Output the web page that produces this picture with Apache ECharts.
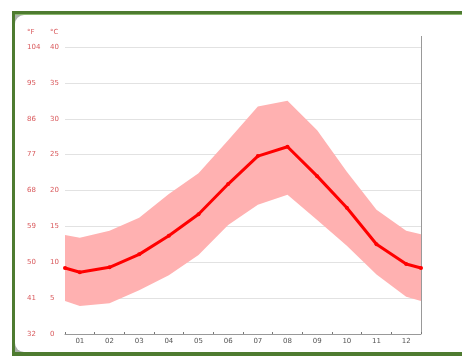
<!DOCTYPE html>
<html><head><meta charset="utf-8">
<style>html,body{margin:0;padding:0;background:#fff}#c{width:462px;height:356px}</style>
<script src="https://cdn.jsdelivr.net/npm/echarts@6/dist/echarts.min.js"></script>
</head><body><div id="c"></div>
<script>
const months = ['01','02','03','04','05','06','07','08','09','10','11','12'];
// positions: 0 = left edge, 0.5..11.5 = months, 12 = right edge
const xPos = [0, 0.5, 1.5, 2.5, 3.5, 4.5, 5.5, 6.5, 7.5, 8.5, 9.5, 10.5, 11.5, 12];
const meanC = [9.2, 8.6, 9.3, 11.1, 13.7, 16.7, 20.9, 24.8, 26.1, 22.0, 17.6, 12.5, 9.75, 9.2];
const maxC  = [13.8, 13.4, 14.4, 16.2, 19.5, 22.4, 27.0, 31.7, 32.5, 28.4, 22.6, 17.3, 14.4, 13.9];
const minC  = [4.6, 3.9, 4.3, 6.1, 8.2, 11.0, 15.2, 18.0, 19.4, 15.9, 12.3, 8.3, 5.2, 4.6];
const cTicks = ['0','5','10','15','20','25','30','35','40'];
const fTicks = ['32','41','50','59','68','77','86','95','104'];

const chart = echarts.init(document.getElementById('c'), null, {renderer:'canvas'});
const pair = (arr) => arr.map((v,i)=>[xPos[i], v]);
const bandData = xPos.map((x,i)=>[x, minC[i], maxC[i]]);
const labCol = '#d9595c';
chart.setOption({
  animation:false,
  backgroundColor:'#fff',
  graphic:[
    {type:'rect', z:-10, shape:{x:12,y:11,width:600,height:400}, style:{fill:'#4e7b30'}},
    {type:'rect', z:-9, shape:{x:15,y:14,width:600,height:338}, style:{fill:'#a9b0a9'}},
    {type:'rect', z:-8, shape:{x:15,y:15,width:600,height:337,r:9}, style:{fill:'#fff'}},
    {type:'line', z:-7, shape:{x1:15,y1:14.5,x2:600,y2:14.5}, style:{stroke:'#8cb870',lineWidth:1}},
    {type:'line', shape:{x1:421.5,y1:36,x2:421.5,y2:334}, style:{stroke:'#999',lineWidth:1}},
    {type:'text', left:27, top:29, style:{text:'°F', fill:labCol, fontSize:7, fontFamily:'DejaVu Sans'}},
    {type:'text', left:50, top:29, style:{text:'°C', fill:labCol, fontSize:7, fontFamily:'DejaVu Sans'}}
  ],
  grid:{left:65, right:41, top:47, bottom:22, containLabel:false},
  xAxis:[
    {type:'category', data:months, boundaryGap:true,
     axisLine:{lineStyle:{color:'#999'}},
     axisTick:{show:true, length:2, inside:true, lineStyle:{color:'#777'}},
     axisLabel:{color:'#555', fontSize:7, margin:4, fontFamily:'DejaVu Sans'},
     splitLine:{show:false}},
    {type:'value', min:0, max:12, show:false}
  ],
  yAxis:[
    {type:'value', min:0, max:40, interval:5,
     axisLine:{show:false}, axisTick:{show:false},
     splitLine:{lineStyle:{color:'#e2e2e2', width:1}},
     axisLabel:{align:'left', margin:15, color:labCol, fontSize:7, fontFamily:'DejaVu Sans',
       formatter:(v)=>cTicks[Math.round(v/5)]}},
    {type:'value', position:'left', min:0, max:40, interval:5,
     axisLine:{show:false}, axisTick:{show:false}, splitLine:{show:false},
     axisLabel:{align:'left', margin:38, color:labCol, fontSize:7, fontFamily:'DejaVu Sans',
       formatter:(v)=>fTicks[Math.round(v/5)]}}
  ],
  series:[
    {type:'custom', xAxisIndex:1, yAxisIndex:0, data:bandData, silent:true, z:1,
     encode:{x:0, y:[1,2]},
     renderItem:function(params, api){
       if (params.dataIndex !== 0) return null;
       const top = [], bot = [];
       for (let i=0;i<bandData.length;i++){
         top.push(api.coord([bandData[i][0], bandData[i][2]]));
         bot.push(api.coord([bandData[i][0], bandData[i][1]]));
       }
       const pts = top.concat(bot.reverse());
       return {type:'polygon', shape:{points:pts}, style:{fill:'#ffb1b1'}};
     }},
    {type:'line', xAxisIndex:1, yAxisIndex:0, data:pair(meanC), symbol:'circle', symbolSize:4,
     showSymbol:true, itemStyle:{color:'#f00'}, lineStyle:{color:'#f00', width:3}, z:5}
  ]
});
</script></body></html>
